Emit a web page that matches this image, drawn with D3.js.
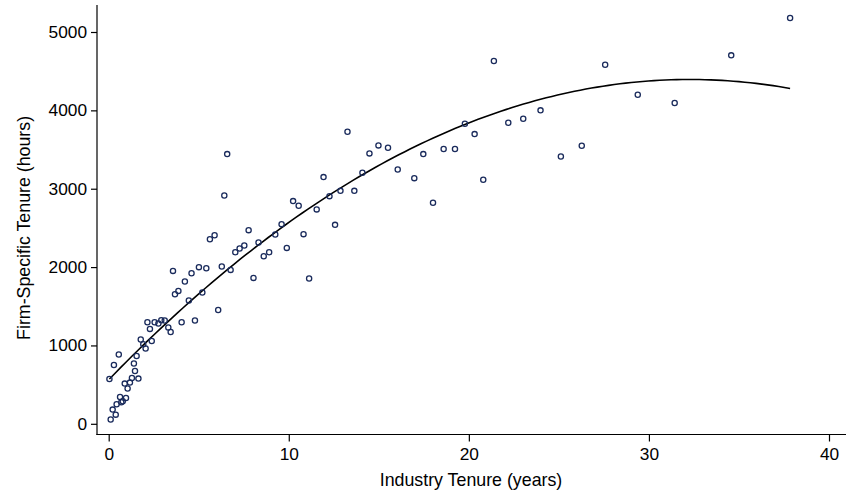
<!DOCTYPE html>
<html><head><meta charset="utf-8">
<script src="https://cdn.jsdelivr.net/npm/d3@7"></script>
<style>body{margin:0;background:#fff}svg{display:block}text{font-family:"Liberation Sans",Arial,sans-serif}</style>
</head><body>
<svg id="c" width="849" height="493"></svg>
<script>
const industryTenure = [1.78,3.44,2.29,1.92,2.39,2.05,1.55,0.56,0.29,1.40,1.46,0.04,1.65,1.29,1.18,0.89,1.05,0.63,0.96,0.78,0.70,0.44,0.22,0.39,0.11,
2.15,2.55,2.76,2.92,3.11,3.31,4.05,4.79,
6.58,6.42,10.24,10.55,9.60,7.77,5.62,5.88,8.32,9.25,10.82,7.03,7.27,7.53,8.61,8.91,9.89,5.01,5.42,6.28,6.77,3.57,4.60,4.23,8.04,11.13,3.87,3.68,5.20,4.45,6.08,
13.26,14.98,15.51,14.48,17.47,18.60,16.05,14.09,16.97,11.93,12.87,12.26,13.64,11.55,18.01,12.57,
21.39,27.57,19.78,22.19,23.02,23.98,20.32,19.23,25.11,26.27,20.80,
37.84,34.57,29.38,31.43];
const firmTenure = [1075,1172,1211,1015,1057,960,866,884,751,769,674,572,577,585,526,513,450,342,329,287,275,249,181,117,54,
1296,1296,1280,1322,1318,1229,1296,1318,
3442,2914,2842,2782,2548,2471,2356,2407,2314,2416,2420,2190,2237,2276,2139,2190,2245,1999,1986,2008,1964,1951,1922,1816,1862,1854,1696,1654,1676,1573,1453,
3727,3553,3522,3451,3442,3506,3246,3203,3135,3148,2973,2905,2973,2736,2820,2539,
4629,4582,3829,3841,3893,4000,3697,3506,3412,3548,3114,
5179,4702,4199,4093];
// quadratic fit line (intercept, linear, squared)
const fitCoef = [562, 237.5, -3.68];
const xTicks = [0,10,20,30,40];
const yTicks = [0,1000,2000,3000,4000,5000];

const svg = d3.select("#c");
const x = d3.scaleLinear().domain([0,40]).range([108.7,829]);
const y = d3.scaleLinear().domain([0,5000]).range([423.8,32]);
const axL = 97, axB = 434.5;
const FONT = "'Liberation Sans',Arial,sans-serif";

svg.append("line").attr("x1",axL).attr("x2",axL).attr("y1",5).attr("y2",axB+0.6).attr("stroke","#000").attr("stroke-width",1.2);
svg.append("line").attr("x1",axL-0.6).attr("x2",846).attr("y1",axB).attr("y2",axB).attr("stroke","#000").attr("stroke-width",1.2);

const yAxis = d3.axisLeft(y).tickValues(yTicks).tickSize(6).tickPadding(4).tickFormat(d3.format("d"));
const gy = svg.append("g").attr("transform",`translate(${axL},0)`).call(yAxis);
gy.select(".domain").remove();
gy.selectAll("text").attr("font-size",17.3).attr("fill","#000").attr("font-family",FONT);
gy.selectAll("line").attr("stroke","#000").attr("stroke-width",1.2);

const xAxis = d3.axisBottom(x).tickValues(xTicks).tickSize(7).tickPadding(6).tickFormat(d3.format("d"));
const gx = svg.append("g").attr("transform",`translate(0,${axB})`).call(xAxis);
gx.select(".domain").remove();
gx.selectAll("text").attr("font-size",17.3).attr("fill","#000").attr("font-family",FONT);
gx.selectAll("line").attr("stroke","#000").attr("stroke-width",1.2);

svg.append("text").attr("x",471).attr("y",486).attr("text-anchor","middle").attr("font-size",17.8).attr("font-family",FONT).text("Industry Tenure (years)");
svg.append("text").attr("transform",`translate(29.5,${(y(0)+y(5000))/2}) rotate(-90)`).attr("text-anchor","middle").attr("font-size",17.8).attr("font-family",FONT).text("Firm-Specific Tenure (hours)");

const xmin=d3.min(industryTenure), xmax=d3.max(industryTenure);
const fitPts = d3.range(0,121).map(i=>{const xv=xmin+(xmax-xmin)*i/120;return [xv,fitCoef[0]+fitCoef[1]*xv+fitCoef[2]*xv*xv];});
svg.append("path").datum(fitPts).attr("fill","none").attr("stroke","#000").attr("stroke-width",1.6)
  .attr("d",d3.line().x(d=>x(d[0])).y(d=>y(d[1])));

svg.append("g").selectAll("circle").data(industryTenure.map((v,i)=>[v,firmTenure[i]])).join("circle")
  .attr("cx",d=>x(d[0])).attr("cy",d=>y(d[1])).attr("r",2.6)
  .attr("fill","none").attr("stroke","#1a2b5c").attr("stroke-width",1.3);
</script>
</body></html>
